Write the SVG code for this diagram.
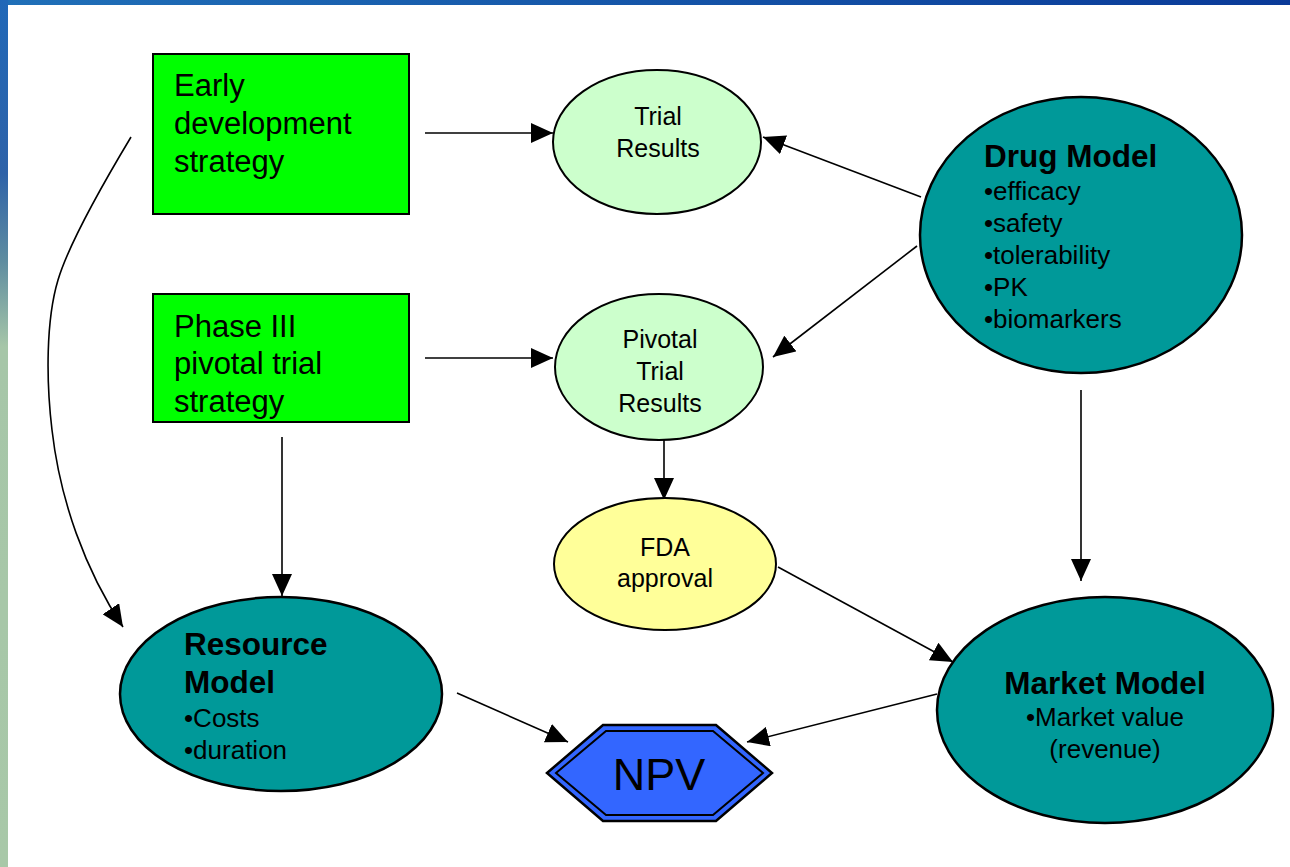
<svg xmlns="http://www.w3.org/2000/svg" width="1290" height="867" viewBox="0 0 1290 867">
<style>
text{font-family:"Liberation Sans",Arial,sans-serif;fill:#000}
.box{fill:#00ff00;stroke:#000;stroke-width:2}
.res{fill:#ccffcc;stroke:#000;stroke-width:2}
.model{fill:#009999;stroke:#000;stroke-width:2.5}
.fda{fill:#ffff99;stroke:#000;stroke-width:2}
.bt{font-size:31px}
.et{font-size:25px;text-anchor:middle}
.hd{font-size:31.5px;font-weight:bold}
.bl{font-size:26px}
.conn{fill:none;stroke:#000;stroke-width:1.6;marker-end:url(#ah)}
</style>
<defs>
<linearGradient id="gTop" x1="0" y1="0" x2="1" y2="0">
<stop offset="0" stop-color="#2070b8"/>
<stop offset="1" stop-color="#0a3a98"/>
</linearGradient>
<linearGradient id="gLeft" x1="0" y1="0" x2="0" y2="1">
<stop offset="0" stop-color="#2068b8"/>
<stop offset="0.2" stop-color="#2e62a8"/>
<stop offset="0.3" stop-color="#5e8ca0"/>
<stop offset="0.4" stop-color="#a6c6a8"/>
<stop offset="1" stop-color="#a8c8a8"/>
</linearGradient>
<marker id="ah" markerUnits="userSpaceOnUse" markerWidth="22" markerHeight="20" viewBox="0 0 22 20" refX="22" refY="10" orient="auto">
<path d="M0,0 L22,10 L0,20 z" fill="#000"/>
</marker>
</defs>
<rect x="0" y="0" width="1290" height="867" fill="#fff"/>
<rect x="0" y="0" width="1290" height="5" fill="url(#gTop)"/>
<rect x="0" y="0" width="8" height="867" fill="url(#gLeft)"/>

<g id="connectors">
<line class="conn" x1="425" y1="133" x2="553" y2="133"/>
<line class="conn" x1="425" y1="358" x2="553" y2="358"/>
<line class="conn" x1="921" y1="197" x2="763" y2="137"/>
<line class="conn" x1="917" y1="246" x2="773" y2="357"/>
<line class="conn" x1="664" y1="440" x2="664" y2="500"/>
<line class="conn" x1="282" y1="437" x2="282" y2="596"/>
<path class="conn" d="M131,137 C110,172 70,240 58,280 C46,320 46,380 52,430 C60,500 85,570 123,627"/>
<line class="conn" x1="778" y1="567" x2="953" y2="662"/>
<line class="conn" x1="1081" y1="390" x2="1081" y2="581"/>
<line class="conn" x1="457" y1="693" x2="568" y2="742"/>
<line class="conn" x1="937" y1="694" x2="747" y2="742"/>
</g>

<g id="early-dev">
<rect class="box" x="153" y="54" width="256" height="160"/>
<text class="bt" x="174" y="96">Early</text>
<text class="bt" x="174" y="134">development</text>
<text class="bt" x="174" y="172">strategy</text>
</g>

<g id="phase3">
<rect class="box" x="153" y="294" width="256" height="128"/>
<text class="bt" x="174" y="337">Phase III</text>
<text class="bt" x="174" y="374">pivotal trial</text>
<text class="bt" x="174" y="412">strategy</text>
</g>

<g id="trial-results">
<ellipse class="res" cx="657" cy="142" rx="104" ry="72"/>
<text class="et" x="658" y="125">Trial</text>
<text class="et" x="658" y="157">Results</text>
</g>

<g id="pivotal-results">
<ellipse class="res" cx="659" cy="367" rx="104" ry="73"/>
<text class="et" x="660" y="348">Pivotal</text>
<text class="et" x="660" y="380">Trial</text>
<text class="et" x="660" y="412">Results</text>
</g>

<g id="fda">
<ellipse class="fda" cx="665" cy="564" rx="111" ry="66"/>
<text class="et" x="665" y="556">FDA</text>
<text class="et" x="665" y="587">approval</text>
</g>

<g id="drug-model">
<ellipse class="model" cx="1081" cy="235" rx="161" ry="138"/>
<text class="hd" x="984" y="167">Drug Model</text>
<text class="bl" x="984" y="200">•efficacy</text>
<text class="bl" x="984" y="232">•safety</text>
<text class="bl" x="984" y="264">•tolerability</text>
<text class="bl" x="984" y="296">•PK</text>
<text class="bl" x="984" y="328">•biomarkers</text>
</g>

<g id="resource-model">
<ellipse class="model" cx="281" cy="694" rx="161" ry="97"/>
<text class="hd" x="184" y="655">Resource</text>
<text class="hd" x="184" y="693">Model</text>
<text class="bl" x="184" y="727">•Costs</text>
<text class="bl" x="184" y="759">•duration</text>
</g>

<g id="market-model">
<ellipse class="model" cx="1105" cy="710" rx="168" ry="113"/>
<text class="hd" x="1105" y="694" text-anchor="middle">Market Model</text>
<text class="bl" x="1105" y="726" text-anchor="middle">•Market value</text>
<text class="bl" x="1105" y="758" text-anchor="middle">(revenue)</text>
</g>

<g id="npv">
<polygon points="547,773 603,725 716,725 772,773 716,821 603,821" fill="#3366ff" stroke="#000" stroke-width="2.5"/>
<polygon points="556,773 606,731 713,731 763,773 713,815 606,815" fill="none" stroke="#000" stroke-width="2"/>
<text x="659" y="790" font-size="45" text-anchor="middle">NPV</text>
</g>
</svg>
